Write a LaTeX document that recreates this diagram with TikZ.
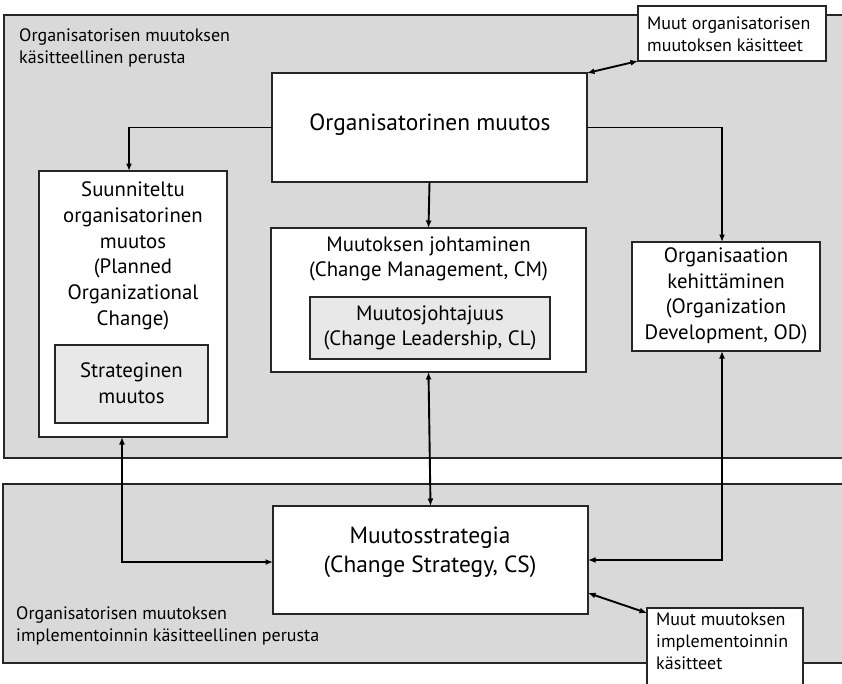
\documentclass[tikz,border=0pt]{standalone}
\usepackage{fontspec}
\setmainfont{PT Sans}
\usetikzlibrary{arrows.meta}
\definecolor{panelgray}{RGB}{217,217,217}
\definecolor{innergray}{RGB}{232,232,232}
\begin{document}
\begin{tikzpicture}[x=1pt,y=-1pt,
  panel/.style={draw=black!85, line width=1.2pt, fill=panelgray},
  box/.style={draw=black!85, line width=1.2pt, fill=white, rectangle, outer sep=0pt, inner sep=0pt},
  innerbox/.style={box, fill=innergray},
  bigtext/.style={font=\fontsize{23.4}{29}\selectfont, align=center, inner sep=0pt},
  boxtext/.style={font=\fontsize{20.8}{25.7}\selectfont, align=center, inner sep=0pt},
  smalltext/.style={font=\fontsize{18}{22}\selectfont, align=left, inner sep=0pt},
  arr/.style={line width=1.9pt, -{Latex[length=7.5pt,width=6pt]}},
  arrboth/.style={line width=1.9pt, {Latex[length=7.5pt,width=6pt]}-{Latex[length=7.5pt,width=6pt]}}]
\useasboundingbox (0,0) rectangle (842,683);

% the two background areas
\path[panel] (4,15) rectangle (870,458);
\path[panel] (3,484) rectangle (870,663);
\node[smalltext, anchor=north west] (toplabel) at (19,28) {Organisatorisen muutoksen\\käsitteellinen perusta};
\node[smalltext, anchor=north west] (botlabel) at (16,606) {Organisatorisen muutoksen\\implementoinnin käsitteellinen perusta};

% boxes
\node[box, minimum width=315pt, minimum height=109pt] (org) at (429.5,127.5) {};
\node[bigtext] (orgt) at (430,125) {Organisatorinen muutos};

\node[box, minimum width=188pt, minimum height=266pt] (suun) at (133,304) {};
\node[boxtext] (suunt) at (133,256) {Suunniteltu\\organisatorinen\\muutos\\(Planned\\Organizational\\Change)};
\node[innerbox, minimum width=153pt, minimum height=78pt] (strat) at (131.5,384) {};
\node[boxtext] (stratt) at (131.5,383) {Strateginen\\muutos};

\node[box, minimum width=315pt, minimum height=144pt] (cm) at (428.5,300) {};
\node[boxtext] (cmt) at (428.5,259) {Muutoksen johtaminen\\(Change Management, CM)};
\node[innerbox, minimum width=240pt, minimum height=62pt] (cl) at (430,328) {};
\node[boxtext] (clt) at (430,328) {Muutosjohtajuus\\(Change Leadership, CL)};

\node[box, minimum width=188pt, minimum height=109pt] (od) at (726,296.5) {};
\node[boxtext] (odt) at (726,296) {Organisaation\\kehittäminen\\(Organization\\Development, OD)};

\node[box, minimum width=315pt, minimum height=108pt] (cs) at (430.5,560) {};
\node[bigtext] (cst) at (430,552) {Muutosstrategia\\(Change Strategy, CS)};

\node[box, minimum width=188pt, minimum height=55pt] (muut1) at (732,33.5) {};
\node[smalltext, anchor=west] (muut1t) at (647,34) {Muut organisatorisen\\muutoksen käsitteet};

\node[box, minimum width=156pt, minimum height=92pt] (muut2) at (725,654) {};
\node[smalltext, anchor=north west] (muut2t) at (656,613) {Muut muutoksen\\implementoinnin\\käsitteet};

% connectors
\draw[arr] (org.west) -| ([xshift=-4pt]suun.north);
\draw[arr] (org.east) -| ([xshift=-4pt]od.north);
\draw[arr] (org.south) -- (cm.north);
\draw[arrboth] (cm.south) -- (cs.north);
\draw[arrboth] ([xshift=-11pt]suun.south) |- ([yshift=-2pt]cs.west);
\draw[arrboth] ([xshift=-4pt]od.south) |- (cs.east);
\draw[arrboth] (muut1.south west) -- (org.north east);
\draw[arrboth] ([yshift=21pt]cs.south east) -- ([yshift=-5pt]muut2.north west);
\end{tikzpicture}
\end{document}
